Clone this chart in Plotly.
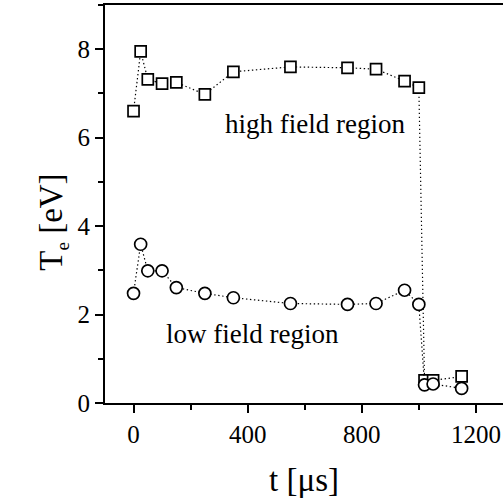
import plotly.graph_objects as go

# Sampling times (µs)
t_us = [0, 25, 50, 100, 150, 250, 350, 550, 750, 850, 950, 1000, 1020, 1050, 1150]

# Electron temperature in the high and low field regions (eV)
te_high = [6.60, 7.95, 7.32, 7.22, 7.25, 6.98, 7.49, 7.60, 7.58, 7.55, 7.28, 7.13, 0.51, 0.51, 0.60]
te_low = [2.48, 3.59, 2.99, 2.99, 2.61, 2.48, 2.38, 2.25, 2.23, 2.25, 2.55, 2.23, 0.41, 0.43, 0.33]

x_ticks = [0, 400, 800, 1200]
y_ticks = [0, 2, 4, 6, 8]

FONT = "Liberation Serif"
dotted = dict(color="black", width=1.2, dash="1.4px,2.6px")

fig = go.Figure()
fig.add_trace(go.Scatter(
    x=t_us, y=te_high, mode="lines+markers", line=dotted,
    marker=dict(symbol="square", size=11, color="white",
                line=dict(color="black", width=1.7)),
    showlegend=False, cliponaxis=False,
))
fig.add_trace(go.Scatter(
    x=t_us, y=te_low, mode="lines+markers", line=dotted,
    marker=dict(symbol="circle", size=12, color="white",
                line=dict(color="black", width=1.7)),
    showlegend=False, cliponaxis=False,
))

fig.add_annotation(x=637, y=6.3, xref="x", yref="y", text="high field region",
                   showarrow=False, font=dict(family=FONT, size=27, color="black"))
fig.add_annotation(x=418, y=1.57, xref="x", yref="y", text="low field region",
                   showarrow=False, font=dict(family=FONT, size=27, color="black"))
fig.add_annotation(x=0, y=0.453, xref="paper", yref="paper", xshift=-74,
                   text="T<sub><span style='font-size:19px'>e</span></sub> [eV]",
                   textangle=-90, showarrow=False,
                   font=dict(family=FONT, size=33, color="black"))

fig.update_layout(
    width=503, height=500,
    margin=dict(l=105, r=0, t=5, b=97),
    plot_bgcolor="white", paper_bgcolor="white",
    font=dict(family=FONT, color="black"),
)
fig.update_xaxes(
    range=[-100, 1295], tickvals=x_ticks, ticktext=[str(v) for v in x_ticks],
    showgrid=False, zeroline=False,
    showline=True, linecolor="black", linewidth=2, mirror=True,
    ticks="outside", ticklen=8, tickwidth=2, tickcolor="black",
    minor=dict(dtick=200, tick0=0, ticks="outside", ticklen=5, tickwidth=2, tickcolor="black"),
    tickfont=dict(family=FONT, size=25, color="black"),
    title=dict(text="t [μs]", font=dict(family=FONT, size=33, color="black"), standoff=21),
)
fig.update_yaxes(
    range=[0, 9], tickvals=y_ticks, ticktext=[str(v) for v in y_ticks],
    showgrid=False, zeroline=False,
    showline=True, linecolor="black", linewidth=2, mirror=False,
    ticks="outside", ticklen=8, tickwidth=2, tickcolor="black",
    minor=dict(dtick=1, tick0=0, ticks="outside", ticklen=5, tickwidth=2, tickcolor="black"),
    tickfont=dict(family=FONT, size=25, color="black"),
)

fig.write_html("out.html")
